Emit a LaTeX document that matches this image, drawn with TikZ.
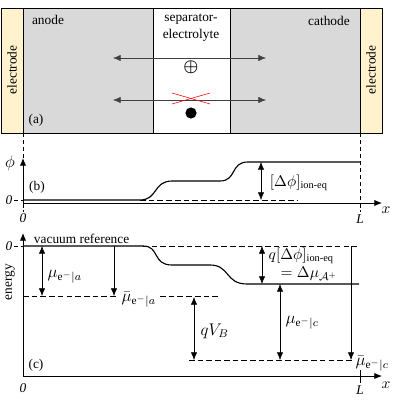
\documentclass[tikz,border=0pt]{standalone}
\usepackage{amsmath}
\usepackage{fontspec}
\setmainfont{Liberation Serif}
\usetikzlibrary{arrows.meta}
\definecolor{electrodeyellow}{RGB}{255,242,204}
\definecolor{layergray}{RGB}{217,217,217}

\begin{document}
\begin{tikzpicture}[
  x=0.025cm, y=-0.025cm,
  font=\fontsize{9.5}{12}\selectfont,
  >={Latex[length=5.5pt,width=4.5pt]},
  electrode/.style={draw,fill=electrodeyellow},
  layer/.style={draw,fill=layergray},
  guide/.style={densely dashed,thin},
  level/.style={dash pattern=on 4pt off 2.2pt,semithick},
  axis/.style={->,semithick},
  curve/.style={thick},
  dim/.style={<->,thin},
  drop/.style={->,thin},
  tag/.style={inner sep=1pt,font=\fontsize{9.5}{12}\selectfont\itshape},
  qty/.style={anchor=west,inner sep=1pt,font=\fontsize{12}{14}\selectfont}
]
\useasboundingbox (0,0) rectangle (400,400);

% (a) cell
\draw[electrode] (1,8) rectangle (23,133);
\draw[layer] (23,8) rectangle (153,133);
\draw (153,8) rectangle (230,133);
\draw[layer] (230,8) rectangle (360,133);
\draw[electrode] (360,8) rectangle (382,133);

\node[rotate=90] (elA) at (12,70) {electrode};
\node[rotate=90] (elC) at (371,70) {electrode};
\node (anode) at (48,20) {anode};
\node (cathode) at (329,21) {cathode};
\node[align=center] (sep) at (191,28) {separator-\\electrolyte};
\node (panelA) at (36,120) {(a)};

\coordinate (ionL) at (113,58);
\coordinate (ionR) at (266,58);
\coordinate (elL) at (113,100);
\coordinate (elR) at (266,100);
\draw[dim,black!75] (ionL) -- (ionR);
\draw[dim,black!75] (elL) -- (elR);
\node[fill=white,inner sep=0.5pt,font=\fontsize{13}{14}\selectfont\boldmath] (cation) at (191,67) {$\oplus$};
\draw[red] (172,93) -- (210,104);
\draw[red] (172,104) -- (210,93);
\node[circle,fill,inner sep=0,minimum size=2.8mm] (electron) at (191,113) {};

\coordinate (gA) at (23,133);
\coordinate (gC) at (360,133);
\coordinate (gA2) at (23,212);
\coordinate (gC2) at (360,212);
\draw[guide] (gA) -- (gA2);
\draw[guide] (gC) -- (gC2);

% (b) potential
\coordinate (bO) at (23,203);
\coordinate (bY) at (23,158);
\coordinate (bX) at (382,203);
\draw[axis] (bO) -- (bY);
\draw[axis] (bO) -- (bX);
\node[font=\fontsize{12}{14}\selectfont] (phi) at (10,163) {$\phi$};
\node[tag] (bzero) at (9,200) {0};
\draw[guide] (bzero.east) -- (23,200);
\node[tag] (bzeroX) at (23,218) {0};
\node[tag] (bL) at (360,219) {L};
\node[font=\fontsize{11}{14}\selectfont] (bx) at (386,210) {$x$};
\node (panelB) at (37,187) {(b)};

\draw[curve] (23,200) -- (140,200) .. controls (158,200) and (153,181) .. (172,181)
  -- (220,181) .. controls (237,181) and (230,162) .. (248,162) -- (360,162);
\draw[level] (140,200) -- (297,200);
\coordinate (phiTop) at (261,162);
\coordinate (phiBot) at (261,200);
\draw[dim] (phiTop) -- (phiBot);
\node[anchor=west,font=\fontsize{10.5}{12}\selectfont] (dphi) at (265,183) {$[\Delta\phi]_{\text{ion-eq}}$};

% (c) energy
\coordinate (cO) at (23,376);
\coordinate (cY) at (23,233);
\coordinate (cX) at (382,376);
\draw[axis] (cO) -- (cY);
\draw[axis] (cO) -- (cX);
\node[rotate=90] (energy) at (10,282) {energy};
\node[tag] (czero) at (9,246) {0};
\draw[guide] (czero.east) -- (23,246);
\node[anchor=west] (vacuum) at (29,239) {vacuum reference};
\node[tag] (czeroX) at (23,388) {0};
\node[tag] (cL) at (360,390) {L};
\node[font=\fontsize{11}{14}\selectfont] (cx) at (386,385) {$x$};
\node (panelC) at (36,365) {(c)};
\draw (360,370) -- (360,383);

\draw[curve] (23,246) -- (143,246) .. controls (160,246) and (152,265) .. (172,265)
  -- (210,265) .. controls (230,265) and (225,284) .. (247,284) -- (359,284);
\draw[level] (143,246) -- (357,246);
\draw[level] (23,296) -- (117,296);
\draw[level] (160,296) -- (218,296);
\draw[level] (189,360) -- (352,360);

\foreach \n/\x/\ya/\yb in {muA/42/246/296, qvb/194/297/360, dpq/262/246/284, muC/280/284/360}{
  \coordinate (\n top) at (\x,\ya);
  \coordinate (\n bot) at (\x,\yb);
  \draw[dim] (\n top) -- (\n bot);
}
\foreach \n/\x/\ya/\yb in {barA/114/246/296, barC/351/246/360}{
  \coordinate (\n top) at (\x,\ya);
  \coordinate (\n bot) at (\x,\yb);
  \draw[drop] (\n top) -- (\n bot);
}

\node[qty] (muAlab) at (46,277) {$\mu_{\mathrm{e}^-|a}$};
\node[qty] (barAlab) at (120,300) {$\bar\mu_{\mathrm{e}^-|a}$};
\node[qty] (qvblab) at (199,331) {$qV_B$};
\node[qty,font=\fontsize{10.5}{12}\selectfont] (dpqlab) at (267,256) {$q[\Delta\phi]_{\text{ion-eq}}$};
\node[qty,font=\fontsize{11}{12}\selectfont] (dmulab) at (279,274) {$=\Delta\mu_{\mathcal{A}^+}$};
\node[qty] (muClab) at (284,323) {$\mu_{\mathrm{e}^-|c}$};
\node[qty] (barClab) at (354,364) {$\bar\mu_{\mathrm{e}^-|c}$};
\end{tikzpicture}
\end{document}
